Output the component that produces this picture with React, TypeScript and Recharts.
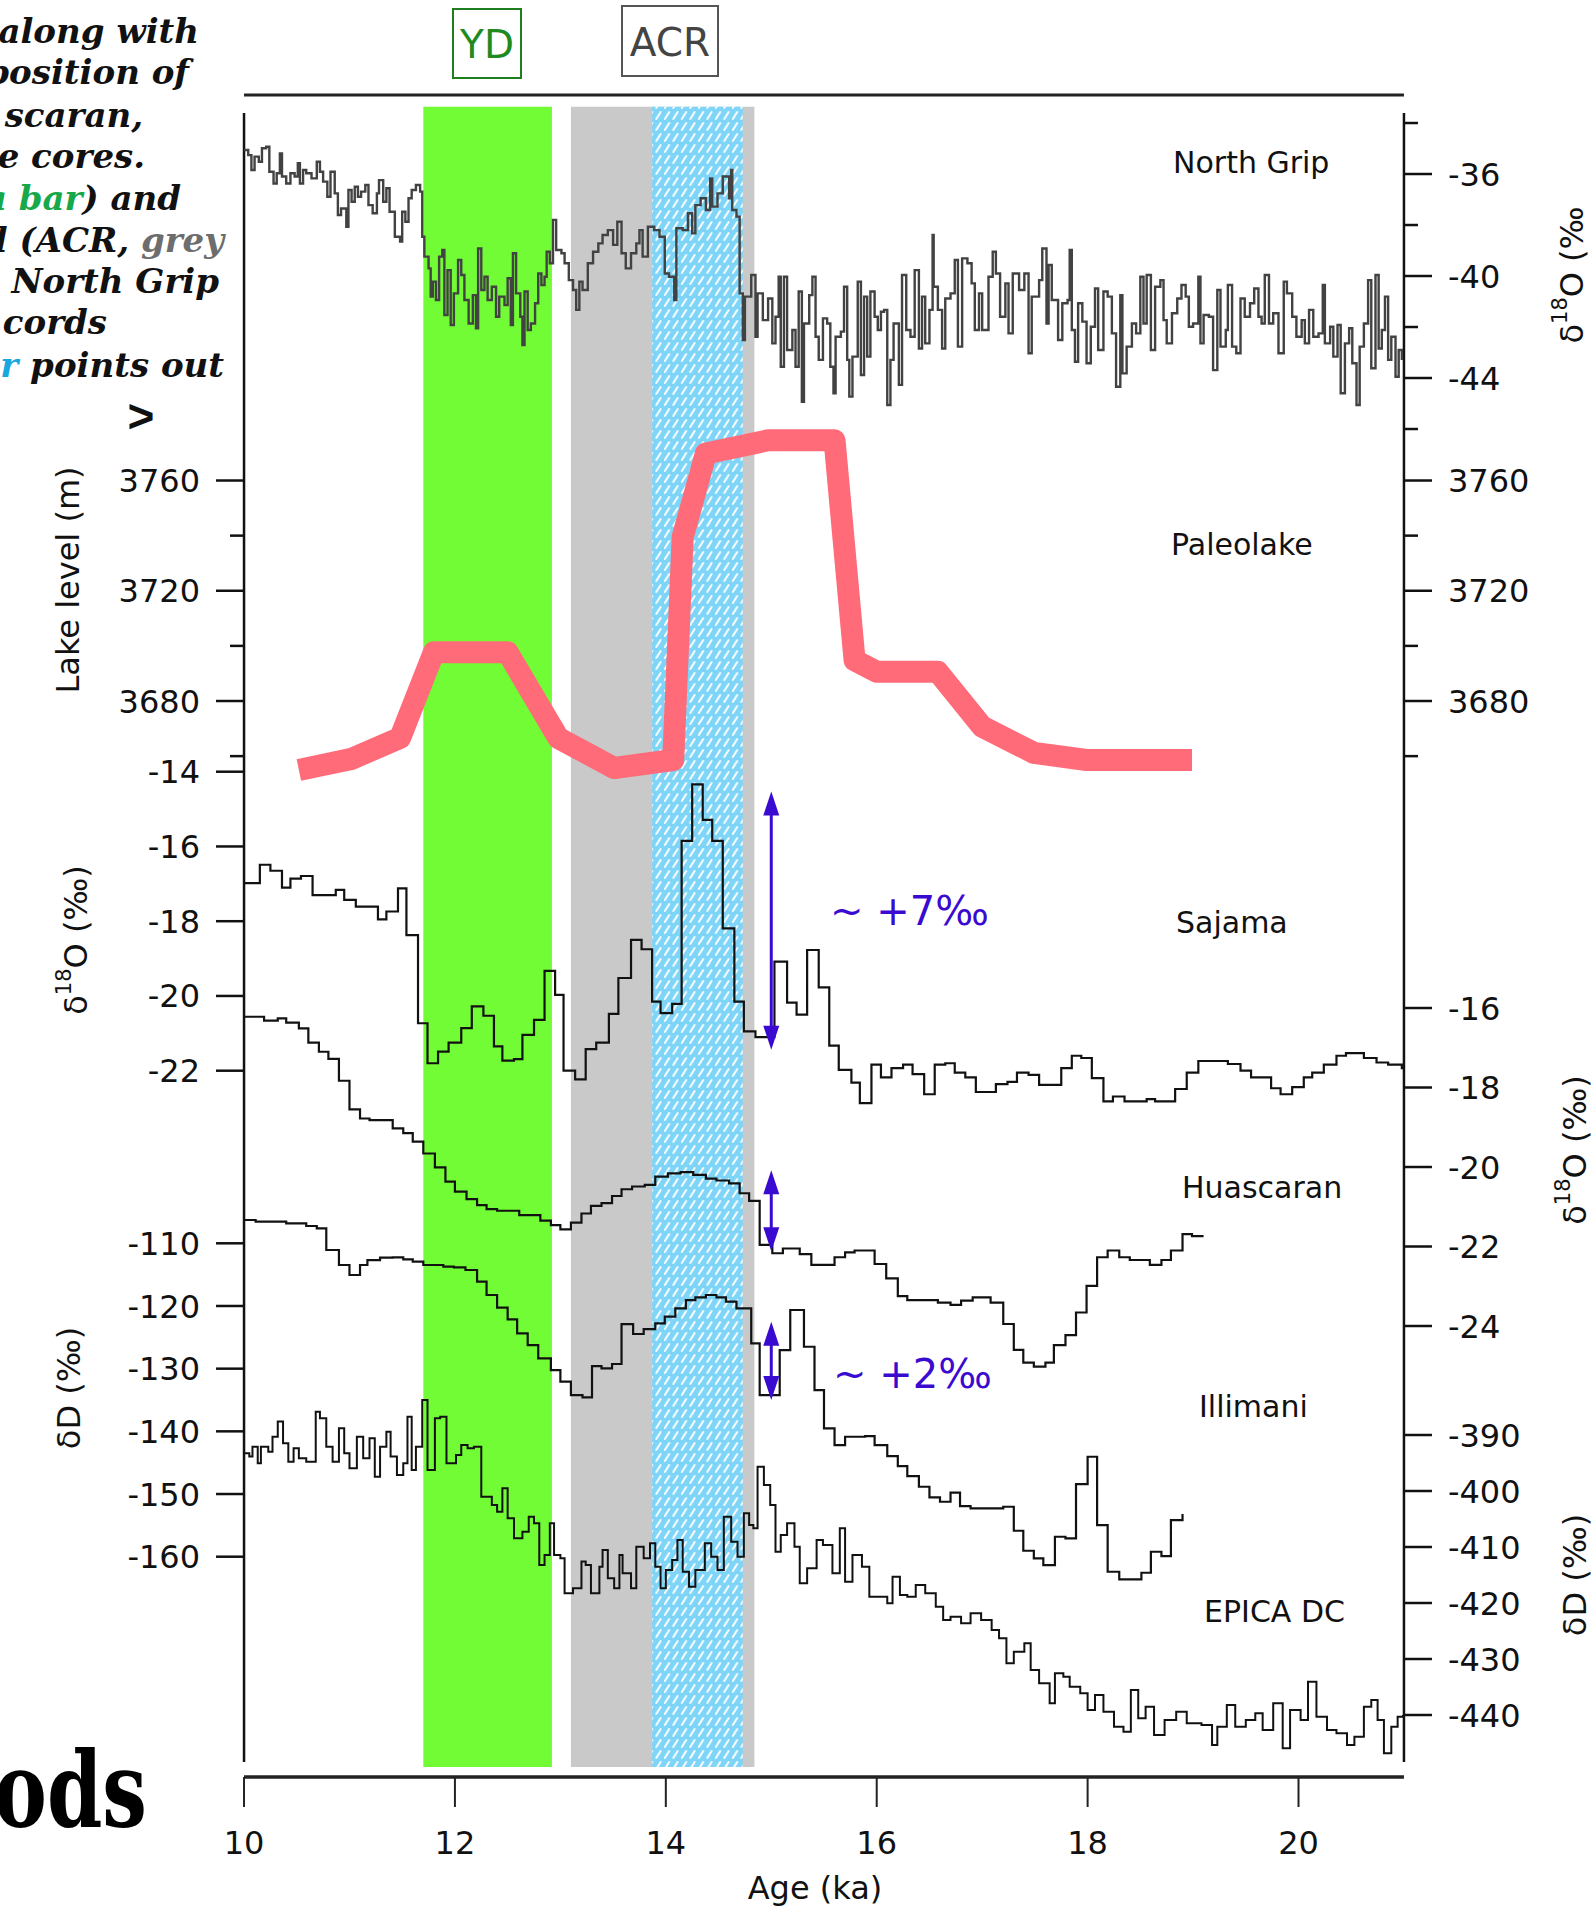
import React from "react";
import { ComposedChart, Line, XAxis, YAxis, ReferenceArea, ReferenceLine } from "recharts";

// ---- data (age in ka, value) ----
const ageTicks = [10, 12, 14, 16, 18, 20];

const periods = [
  { key: "YD", from: 11.7, to: 12.92 },
  { key: "ACR", from: 13.1, to: 14.84 },
  { key: "ACRcore", from: 13.87, to: 14.73 },
];

const ngripTicks = [-34, -36, -38, -40, -42, -44, -46];
const ngripMajor = [-36, -40, -44];
const lakeTicks = [3660, 3680, 3700, 3720, 3740, 3760];
const lakeMajor = [3680, 3720, 3760];
const sajamaTicks = [-14, -16, -18, -20, -22];
const huascaranTicks = [-16, -18, -20, -22, -24];
const illimaniTicks = [-110, -120, -130, -140, -150, -160];
const epicaTicks = [-390, -400, -410, -420, -430, -440];

const ngrip: [number, number][] = [
  [10.0, -35.06], [10.04, -35.26], [10.07, -35.84], [10.1, -35.32], [10.14, -35.52], [10.17, -34.99], [10.21, -34.93], [10.24, -35.91],
  [10.28, -36.37], [10.31, -35.97], [10.34, -35.19], [10.36, -36.1], [10.4, -36.37], [10.44, -35.97], [10.48, -36.1], [10.51, -35.58],
  [10.53, -36.37], [10.56, -35.84], [10.59, -35.97], [10.64, -36.17], [10.69, -35.52], [10.72, -35.91], [10.75, -36.3], [10.79, -36.89],
  [10.82, -35.91], [10.86, -36.76], [10.89, -37.61], [10.92, -37.35], [10.97, -38.07], [10.99, -36.63], [11.02, -37.09], [11.05, -36.5],
  [11.08, -36.89], [11.11, -36.69], [11.15, -36.43], [11.18, -37.22], [11.22, -37.54], [11.26, -36.76], [11.28, -36.24], [11.32, -37.09],
  [11.35, -36.56], [11.38, -37.48], [11.43, -38.46], [11.48, -38.65], [11.5, -37.48], [11.53, -37.87], [11.56, -36.95], [11.59, -36.63],
  [11.63, -36.43], [11.67, -36.69], [11.69, -38.46], [11.71, -39.24], [11.75, -39.7], [11.77, -40.81], [11.79, -40.22], [11.82, -40.94],
  [11.85, -39.24], [11.88, -38.98], [11.9, -41.53], [11.93, -39.77], [11.96, -41.92], [11.99, -40.68], [12.03, -39.37], [12.06, -39.96],
  [12.09, -40.94], [12.13, -41.86], [12.17, -40.75], [12.2, -42.05], [12.22, -38.92], [12.25, -40.55], [12.28, -40.03], [12.31, -40.94],
  [12.35, -40.42], [12.39, -41.6], [12.42, -40.81], [12.47, -41.14], [12.5, -40.09], [12.53, -41.92], [12.55, -39.11], [12.58, -40.68],
  [12.62, -41.6], [12.64, -42.71], [12.66, -40.61], [12.69, -42.12], [12.72, -41.86], [12.76, -41.07], [12.79, -39.9], [12.82, -40.35],
  [12.85, -40.03], [12.87, -39.05], [12.9, -39.5], [12.93, -37.8], [12.96, -38.98], [13.01, -39.11], [13.04, -39.5], [13.08, -40.16],
  [13.12, -40.55], [13.15, -41.33], [13.18, -40.22], [13.21, -40.55], [13.26, -39.5], [13.31, -39.05], [13.36, -38.72], [13.4, -38.39],
  [13.45, -38.2], [13.5, -38.78], [13.54, -37.87], [13.58, -39.11], [13.62, -39.7], [13.67, -39.11], [13.72, -38.72],
  [13.75, -38.2], [13.78, -39.24], [13.83, -38.07], [13.89, -38.2], [13.94, -38.46], [13.99, -39.9], [14.03, -40.03], [14.08, -40.94],
  [14.1, -38.13], [14.16, -38.2], [14.21, -37.54], [14.25, -38.33], [14.28, -37.22], [14.33, -36.95], [14.38, -37.41], [14.42, -36.17],
  [14.44, -37.28], [14.49, -36.76], [14.54, -36.1], [14.6, -36.95], [14.62, -35.84], [14.63, -37.41], [14.67, -37.67], [14.7, -40.68],
  [14.73, -42.51], [14.75, -40.81], [14.81, -39.96], [14.85, -42.38], [14.87, -40.68], [14.92, -41.73], [14.97, -40.88], [15.01, -42.64],
  [15.04, -41.6], [15.07, -40.03], [15.09, -43.56], [15.12, -40.03], [15.15, -42.9], [15.2, -42.12], [15.23, -43.56], [15.26, -40.61],
  [15.29, -44.93], [15.31, -41.86], [15.36, -40.75], [15.39, -40.03], [15.42, -42.38], [15.45, -43.29], [15.49, -41.66], [15.53, -41.86],
  [15.56, -43.56], [15.59, -44.6], [15.61, -42.38], [15.66, -42.18], [15.69, -40.42], [15.72, -43.29], [15.74, -44.73], [15.77, -43.16],
  [15.82, -40.22], [15.85, -43.88], [15.88, -40.81], [15.91, -43.16], [15.94, -40.61], [15.98, -41.6], [16.01, -42.12], [16.04, -41.4],
  [16.07, -41.33], [16.1, -45.06], [16.13, -43.29], [16.16, -41.86], [16.21, -44.27], [16.24, -39.96], [16.28, -42.12], [16.32, -42.38],
  [16.36, -39.77], [16.4, -42.84], [16.43, -40.81], [16.46, -42.64], [16.5, -41.33], [16.53, -38.39], [16.54, -40.42], [16.58, -41.33],
  [16.62, -42.84], [16.65, -40.88], [16.7, -40.68], [16.74, -39.37], [16.77, -42.77], [16.81, -39.31], [16.86, -39.5], [16.9, -40.29],
  [16.93, -42.12], [16.97, -40.68], [17.0, -42.12], [17.06, -40.03], [17.1, -39.05], [17.13, -39.9], [17.17, -41.6], [17.22, -40.29],
  [17.25, -42.25], [17.29, -39.9], [17.35, -40.55], [17.4, -39.9], [17.44, -43.03], [17.47, -40.81],
  [17.54, -40.16], [17.57, -38.92], [17.61, -41.86], [17.63, -39.57], [17.66, -40.94], [17.72, -42.51], [17.76, -41.07], [17.81, -40.94],
  [17.83, -38.98], [17.85, -42.12], [17.88, -43.36], [17.91, -41.07], [17.95, -41.79], [17.99, -43.42], [18.03, -41.99], [18.07, -40.49],
  [18.1, -42.9], [18.15, -40.61], [18.19, -40.81], [18.23, -42.25], [18.27, -44.34], [18.31, -40.75], [18.33, -43.82], [18.37, -42.77],
  [18.42, -41.86], [18.46, -42.25], [18.5, -40.03], [18.53, -41.86], [18.56, -39.96], [18.6, -42.9], [18.64, -40.42], [18.69, -40.16],
  [18.72, -41.73], [18.75, -42.64], [18.8, -41.46], [18.85, -40.88], [18.89, -40.35], [18.93, -40.81], [18.96, -41.99], [19.0, -41.86],
  [19.05, -40.03], [19.07, -42.64], [19.1, -41.53], [19.15, -41.6], [19.19, -43.69], [19.23, -40.55], [19.26, -42.77], [19.31, -42.12],
  [19.33, -40.35], [19.37, -42.77], [19.41, -43.03], [19.45, -40.88], [19.49, -41.6], [19.54, -41.07], [19.58, -40.49], [19.62, -41.6],
  [19.65, -41.86], [19.68, -39.96], [19.72, -41.86], [19.76, -41.46], [19.81, -43.03], [19.86, -40.22], [19.89, -40.68], [19.94, -41.6],
  [19.98, -42.38], [20.03, -41.73], [20.06, -42.64], [20.1, -41.33], [20.14, -42.38], [20.19, -42.25], [20.23, -40.35], [20.25, -42.64],
  [20.3, -41.99], [20.33, -43.16], [20.37, -41.92], [20.4, -44.6], [20.44, -42.64], [20.48, -42.05], [20.51, -43.42], [20.55, -45.06],
  [20.58, -42.77], [20.62, -41.86], [20.66, -40.16], [20.69, -43.62], [20.73, -39.96], [20.76, -42.84], [20.79, -42.12], [20.82, -40.81],
  [20.85, -43.29], [20.88, -42.38], [20.92, -43.95], [20.95, -42.9], [20.98, -43.29],
];

const lakeLevel: [number, number][] = [
  [10.52, 3655], [11.02, 3659], [11.48, 3666.6], [11.8, 3697.7], [12.5, 3697.7], [12.98, 3666.6], [13.51, 3655.7],
  [14.07, 3658.6], [14.16, 3739.5], [14.38, 3769.8], [14.97, 3774.6], [15.6, 3774.6], [15.79, 3694.8], [16.0, 3690.6],
  [16.58, 3690.6], [17.0, 3670.7], [17.49, 3661.2], [17.99, 3658.6], [18.99, 3658.6],
];

const sajama: [number, number][] = [
  [10.0, -16.98], [10.15, -16.49], [10.25, -16.65], [10.36, -17.1], [10.44, -16.86], [10.54, -16.79], [10.65, -17.3], [10.87, -17.16],
  [10.95, -17.43], [11.06, -17.61], [11.27, -17.95], [11.35, -17.74], [11.46, -17.12], [11.54, -18.37], [11.65, -20.73], [11.74, -21.8],
  [11.84, -21.49], [11.94, -21.25], [12.06, -20.86], [12.16, -20.28], [12.27, -20.53], [12.37, -21.35], [12.45, -21.73], [12.56, -21.69],
  [12.64, -21.04], [12.75, -20.64], [12.85, -19.33], [12.95, -19.97], [13.03, -22.0], [13.14, -22.23], [13.24, -21.42], [13.34, -21.25],
  [13.46, -20.48], [13.55, -19.52], [13.67, -18.5], [13.77, -18.75], [13.87, -20.15], [13.95, -20.46], [14.06, -20.21], [14.15, -15.85],
  [14.25, -14.34], [14.35, -15.29], [14.44, -15.85], [14.54, -18.19], [14.65, -20.15], [14.74, -20.95], [14.85, -21.1], [15.03, -19.08],
  [15.15, -20.18], [15.24, -20.5], [15.34, -18.77], [15.45, -19.77], [15.55, -21.33], [15.64, -21.98], [15.76, -22.32], [15.84, -22.87],
  [15.95, -21.84], [16.04, -22.18], [16.14, -21.93], [16.25, -21.84], [16.34, -22.09], [16.45, -22.63], [16.55, -21.84], [16.65, -21.8],
  [16.74, -22.05], [16.84, -22.18], [16.94, -22.57], [17.13, -22.36], [17.24, -22.3], [17.33, -22.05], [17.44, -22.11], [17.54, -22.38],
  [17.75, -21.93], [17.85, -21.6], [17.94, -21.66], [18.04, -22.2], [18.15, -22.82], [18.24, -22.69], [18.35, -22.82], [18.56, -22.76],
  [18.64, -22.82], [18.83, -22.49], [18.94, -22.05], [19.05, -21.74], [19.33, -21.82], [19.45, -22.0], [19.55, -22.18], [19.74, -22.47],
  [19.83, -22.63], [19.94, -22.44], [20.05, -22.18], [20.13, -22.05], [20.24, -21.84], [20.36, -21.6], [20.45, -21.53], [20.62, -21.66],
  [20.74, -21.78], [20.85, -21.84], [20.98, -21.93], [21.0, -21.93],
];

const huascaran: [number, number][] = [
  [10.0, -16.22], [10.19, -16.32], [10.32, -16.26], [10.4, -16.37], [10.52, -16.51], [10.61, -16.87], [10.71, -17.1], [10.8, -17.28],
  [10.9, -17.83], [11.0, -18.55], [11.1, -18.78], [11.19, -18.82], [11.41, -19.03], [11.51, -19.15], [11.6, -19.36], [11.7, -19.66],
  [11.81, -20.01], [11.91, -20.37], [12.0, -20.62], [12.11, -20.81], [12.21, -20.96], [12.3, -21.06], [12.4, -21.1], [12.61, -21.21],
  [12.81, -21.35], [12.91, -21.46], [13.0, -21.57], [13.1, -21.4], [13.2, -21.17], [13.29, -20.98], [13.39, -20.91], [13.49, -20.73],
  [13.58, -20.56], [13.68, -20.49], [13.8, -20.45], [13.9, -20.24], [14.02, -20.16], [14.14, -20.13], [14.26, -20.2], [14.38, -20.29],
  [14.48, -20.34], [14.6, -20.41], [14.7, -20.66], [14.79, -20.85], [14.89, -21.96], [15.01, -22.17], [15.11, -22.05], [15.27, -22.19],
  [15.38, -22.46], [15.6, -22.27], [15.7, -22.15], [15.79, -22.1], [15.98, -22.44], [16.09, -22.8], [16.2, -23.25], [16.29, -23.35],
  [16.58, -23.41], [16.7, -23.47], [16.8, -23.36], [16.91, -23.28], [17.08, -23.41], [17.2, -23.95], [17.3, -24.6], [17.39, -24.92],
  [17.49, -25.02], [17.6, -24.92], [17.68, -24.48], [17.79, -24.23], [17.89, -23.66], [17.99, -22.99], [18.09, -22.27], [18.19, -22.1],
  [18.3, -22.27], [18.4, -22.34], [18.59, -22.46], [18.7, -22.34], [18.79, -22.1], [18.9, -21.69], [18.99, -21.74], [19.1, -21.74],
];

const illimani: [number, number][] = [
  [10.0, -106.28], [10.11, -106.55], [10.4, -106.81], [10.59, -107.24], [10.69, -107.61], [10.78, -111.07], [10.9, -113.46],
  [11.0, -115.06], [11.1, -113.46], [11.17, -112.67], [11.29, -112.29], [11.41, -112.24], [11.51, -112.56], [11.6, -112.93],
  [11.7, -113.46], [11.89, -113.73], [11.99, -113.84], [12.1, -114.26], [12.21, -116.12], [12.3, -118.25], [12.4, -120.27],
  [12.5, -122.13], [12.59, -124.37], [12.69, -126.23], [12.79, -128.36], [12.91, -130.22], [13.0, -132.08], [13.1, -134.21],
  [13.21, -134.58], [13.3, -129.58], [13.39, -129.95], [13.49, -129.26], [13.58, -122.88], [13.69, -124.47], [13.79, -123.68],
  [13.9, -122.77], [13.99, -121.71], [14.09, -120.38], [14.19, -119.05], [14.28, -118.62], [14.38, -118.25], [14.48, -118.62],
  [14.57, -119.31], [14.67, -120.38], [14.81, -125.96], [14.89, -134.21], [15.08, -127.03], [15.18, -120.64], [15.31, -126.5],
  [15.41, -133.41], [15.5, -139.53], [15.6, -142.19], [15.7, -140.86], [15.89, -140.75], [15.98, -142.19], [16.1, -143.94],
  [16.2, -145.54], [16.29, -147.13], [16.4, -148.84], [16.5, -150.54], [16.6, -151.23], [16.7, -149.79], [16.79, -151.92],
  [16.89, -152.29], [17.2, -152.03], [17.3, -155.86], [17.39, -159.05], [17.49, -160.27], [17.58, -161.34], [17.69, -156.82],
  [17.79, -157.08], [17.89, -148.41], [18.0, -144.05], [18.09, -154.95], [18.19, -162.4], [18.3, -163.62], [18.51, -162.56],
  [18.6, -159.21], [18.7, -159.9], [18.79, -154.16], [18.9, -153.2],
];

const epica: [number, number][] = [
  [10.0, -393.27], [10.05, -393.86], [10.08, -392.08], [10.13, -395.05], [10.16, -392.08], [10.23, -392.97], [10.27, -390.29],
  [10.32, -387.61], [10.37, -391.48], [10.42, -394.76], [10.47, -392.38], [10.52, -394.16], [10.59, -394.76], [10.68, -385.83],
  [10.72, -387.02], [10.78, -392.08], [10.84, -394.76], [10.9, -388.8], [10.95, -393.27], [11.0, -395.95], [11.07, -390.29],
  [11.13, -394.16], [11.19, -390.59], [11.24, -397.44], [11.29, -392.08], [11.35, -389.4], [11.39, -393.86], [11.45, -397.14],
  [11.51, -395.05], [11.55, -386.72], [11.59, -396.25], [11.63, -392.08], [11.69, -383.75], [11.74, -396.25], [11.81, -387.02],
  [11.86, -386.72], [11.92, -395.05], [12.01, -393.57], [12.06, -391.78], [12.12, -392.38], [12.18, -392.08], [12.25, -401.01],
  [12.35, -402.5], [12.4, -403.69], [12.45, -399.52], [12.5, -404.87], [12.56, -408.45], [12.64, -407.26], [12.7, -404.58],
  [12.75, -405.77], [12.8, -413.21], [12.85, -411.42], [12.9, -405.77], [12.94, -411.42], [13.0, -412.02], [13.04, -418.27],
  [13.12, -417.37], [13.2, -412.61], [13.24, -413.21], [13.29, -418.27], [13.37, -413.51], [13.4, -410.54], [13.45, -415.59],
  [13.51, -417.37], [13.56, -411.42], [13.59, -414.7], [13.67, -417.37], [13.72, -409.94], [13.79, -412.02], [13.85, -409.34],
  [13.9, -413.51], [13.95, -417.37], [14.0, -414.1], [14.06, -412.32], [14.11, -408.75], [14.16, -414.4], [14.22, -417.08],
  [14.28, -414.1], [14.37, -409.34], [14.43, -411.72], [14.49, -414.1], [14.55, -404.58], [14.62, -409.04], [14.68, -411.72],
  [14.74, -403.98], [14.79, -406.07], [14.83, -406.66], [14.87, -395.65], [14.93, -398.92], [14.99, -402.5], [15.04, -410.83],
  [15.09, -407.85], [15.15, -405.77], [15.22, -409.94], [15.27, -416.48], [15.34, -413.8], [15.43, -408.75], [15.49, -409.64],
  [15.58, -414.7], [15.65, -406.66], [15.7, -416.19], [15.77, -411.42], [15.86, -413.51], [15.93, -418.87], [16.1, -420.05],
  [16.15, -415.29], [16.22, -418.57], [16.29, -418.87], [16.37, -416.78], [16.46, -418.27], [16.56, -420.65], [16.63, -423.03],
  [16.7, -422.44], [16.8, -423.63], [16.89, -421.84], [16.99, -423.03], [17.09, -424.82], [17.16, -426.31], [17.23, -430.77],
  [17.3, -428.69], [17.4, -427.2], [17.46, -431.96], [17.54, -434.34], [17.64, -437.91], [17.69, -432.56], [17.77, -433.15],
  [17.83, -434.94], [17.93, -436.13], [18.0, -439.1], [18.07, -436.43], [18.15, -439.4], [18.25, -442.08], [18.34, -442.97],
  [18.41, -435.53], [18.48, -440.59], [18.55, -438.51], [18.63, -443.57], [18.73, -440.89], [18.84, -439.4], [18.94, -441.49],
  [19.08, -441.78], [19.18, -445.35], [19.23, -442.08], [19.32, -438.21], [19.4, -442.08], [19.5, -440.89], [19.59, -439.7],
  [19.66, -442.68], [19.76, -437.91], [19.85, -445.95], [19.92, -439.1], [20.02, -440.89], [20.09, -434.05], [20.17, -440.3],
  [20.27, -442.68], [20.36, -443.27], [20.46, -445.35], [20.53, -443.87], [20.62, -438.51], [20.69, -437.32], [20.75, -440.89],
  [20.81, -446.84], [20.88, -442.08], [20.94, -440.3], [20.99, -440.0],
];

// double arrows: shift around 15 ka
const shifts = [
  { axis: "sajama", age: 15.0, top: -14.53, bottom: -21.44 },
  { axis: "huascaran", age: 15.0, top: -20.08, bottom: -22.12 },
  { axis: "illimani", age: 15.0, top: -122.5, bottom: -135.0 },
];

// ---- layout ----
const W = 1592;
const H = 1915;
const PLOT_TOP = 95;
const PLOT_BOTTOM = 1777;
const PLOT_LEFT = 244;
const PLOT_RIGHT = 1404;
const AXIS_W = 0.01; // axes sit on top of each other; a zero width would stop them drawing
const FONT = "'DejaVu Sans', sans-serif";
const SERIF = "'DejaVu Serif', serif";
const INK = "#111";
const ARROW = "#3a0ad0";

// domain so that value v1 sits at pixel y1 and v2 at y2
function domainFrom(v1: number, y1: number, v2: number, y2: number): [number, number] {
  const k = (v1 - v2) / (y2 - y1);
  return [v2 - (PLOT_BOTTOM - y2) * k, v1 + (y1 - PLOT_TOP) * k];
}

const domains = {
  ngrip: domainFrom(-36, 174, -44, 378),
  lake: domainFrom(3760, 480.5, 3680, 701),
  sajama: domainFrom(-14, 771.7, -22, 1070.7),
  huascaran: domainFrom(-16, 1008, -24, 1326),
  illimani: domainFrom(-110, 1243.3, -160, 1556.7),
  epica: domainFrom(-390, 1435, -440, 1715),
};

const toRows = (pts: [number, number][]) => pts.map(([age, v]) => ({ age, v }));

const makeTick = (side: "left" | "right", majors: number[] | null) => (props: any) => {
  const { x, y, payload } = props;
  const v = payload.value;
  const major = majors === null || majors.includes(v);
  const dir = side === "left" ? -1 : 1;
  const len = major ? 28 : 14;
  return (
    <g>
      <line x1={x} x2={x + dir * len} y1={y} y2={y} stroke={INK} strokeWidth={2.5} />
      {major && (
        <text
          x={x + dir * (len + 16)}
          y={y}
          dy="0.36em"
          textAnchor={side === "left" ? "end" : "start"}
          fontFamily={FONT}
          fontSize={32}
          fill={INK}
        >
          {v}
        </text>
      )}
    </g>
  );
};

const renderArrow = (props: any) => {
  const { x1, y1, y2 } = props;
  const top = Math.min(y1, y2);
  const bot = Math.max(y1, y2);
  const head = 24;
  const half = 8;
  return (
    <g>
      <line x1={x1} x2={x1} y1={top + head - 2} y2={bot - head + 2} stroke={ARROW} strokeWidth={3} />
      <polygon points={`${x1},${top} ${x1 - half},${top + head} ${x1 + half},${top + head}`} fill={ARROW} />
      <polygon points={`${x1},${bot} ${x1 - half},${bot - head} ${x1 + half},${bot - head}`} fill={ARROW} />
    </g>
  );
};

const bandFill: Record<string, string> = {
  YD: "#72fc35",
  ACR: "#c9c9c9",
  ACRcore: "url(#acrHatch)",
};

function Rotated({ x, y, children, size = 32 }: { x: number; y: number; children: React.ReactNode; size?: number }) {
  return (
    <text
      transform={`translate(${x},${y}) rotate(-90)`}
      textAnchor="middle"
      dominantBaseline="central"
      fontFamily={FONT}
      fontSize={size}
      fill={INK}
    >
      {children}
    </text>
  );
}

const d18O = (close: boolean) => (
  <>
    δ<tspan fontSize={21} dy={-12}>18</tspan>
    <tspan dy={12}>O (‰{close ? ")" : ""}</tspan>
  </>
);

function Overlay() {
  const slide = { fontFamily: SERIF, fontSize: 34, fontWeight: 700, fontStyle: "italic" as const, fill: "#111" };
  const label = { fontFamily: FONT, fontSize: 30, fill: INK };
  return (
    <svg width={W} height={H} style={{ position: "absolute", left: 0, top: 0, pointerEvents: "none" }}>
      {/* slide text cut at the left edge */}
      <text {...slide} textAnchor="end" x={199} y={43}>along with</text>
      <text {...slide} textAnchor="end" x={189} y={84}>position of</text>
      <text {...slide} textAnchor="end" x={143} y={127}>scaran,</text>
      <text {...slide} textAnchor="end" x={145} y={168}>e cores.</text>
      <text {...slide} textAnchor="end" x={181} y={210}>
        <tspan fill="#16a84a">a bar</tspan>) and
      </text>
      <text {...slide} textAnchor="end" x={224} y={252}>
        l (ACR, <tspan fill="#6d6d6d">grey</tspan>
      </text>
      <text {...slide} textAnchor="end" x={219} y={293}>North Grip</text>
      <text {...slide} textAnchor="end" x={107} y={334}>cords</text>
      <text {...slide} textAnchor="end" x={224} y={377}>
        <tspan fill="#19a7e0">r</tspan> points out
      </text>
      <text fontFamily="'Liberation Sans', sans-serif" fontWeight={700} fontSize={46} textAnchor="middle" x={141} y={432} fill="#111">
        {">"}
      </text>
      <text fontFamily={SERIF} fontWeight={900} fontSize={105} x={-6} y={1827} textLength={153} lengthAdjust="spacingAndGlyphs" fill="#000">
        ods
      </text>

      {/* period boxes */}
      <rect x={453} y={9} width={68} height={69} fill="none" stroke="#1f7f1f" strokeWidth={2} />
      <text x={487} y={58} textAnchor="middle" fontFamily={FONT} fontSize={39} fill="#1f8a1f">YD</text>
      <rect x={622} y={6} width={96} height={70} fill="none" stroke="#555" strokeWidth={2} />
      <text x={670} y={56} textAnchor="middle" fontFamily={FONT} fontSize={39} fill="#444">ACR</text>

      {/* series labels */}
      <text {...label} x={1173} y={173}>North Grip</text>
      <text {...label} x={1171} y={555}>Paleolake</text>
      <text {...label} x={1176} y={933}>Sajama</text>
      <text {...label} x={1182} y={1198}>Huascaran</text>
      <text {...label} x={1199} y={1417}>Illimani</text>
      <text {...label} x={1204} y={1622}>EPICA DC</text>

      {/* shift annotations */}
      <text x={830} y={925} fontFamily={FONT} fontSize={40} fill={ARROW}>~ +7‰</text>
      <text x={833} y={1388} fontFamily={FONT} fontSize={40} fill={ARROW}>~  +2‰</text>

      {/* axis titles */}
      <Rotated x={68} y={580}>Lake level (m)</Rotated>
      <Rotated x={76} y={940}>{d18O(true)}</Rotated>
      <Rotated x={69} y={1388}>δD (‰)</Rotated>
      <Rotated x={1572} y={275}>{d18O(false)}</Rotated>
      <Rotated x={1575} y={1150}>{d18O(true)}</Rotated>
      <Rotated x={1575} y={1575}>δD (‰)</Rotated>
      <text x={815} y={1899} textAnchor="middle" fontFamily={FONT} fontSize={32} fill={INK}>Age (ka)</text>
    </svg>
  );
}

export default function App() {
  const yAxis = (id: string, side: "left" | "right", domain: [number, number], ticks: number[], majors: number[] | null) => (
    <YAxis
      key={id}
      yAxisId={id}
      orientation={side}
      type="number"
      domain={domain}
      allowDataOverflow
      ticks={ticks}
      interval={0}
      width={AXIS_W}
      tickSize={0}
      tickMargin={0}
      tickLine={false}
      axisLine={false}
      tick={makeTick(side, majors)}
    />
  );

  const series = [
    { id: "ngrip", data: ngrip, color: "#424242", width: 2.4 },
    { id: "sajama", data: sajama, color: INK, width: 2.2 },
    { id: "huascaran", data: huascaran, color: INK, width: 2.2 },
    { id: "illimani", data: illimani, color: INK, width: 2.2 },
    { id: "epica", data: epica, color: INK, width: 2 },
  ];

  return (
    <div style={{ position: "absolute", left: 0, top: 0, width: W, height: H, background: "#fff" }}>
      <ComposedChart
        width={W}
        height={H}
        margin={{ top: PLOT_TOP, right: W - PLOT_RIGHT, bottom: 0, left: PLOT_LEFT }}
      >
        <defs>
          <pattern id="acrHatch" patternUnits="userSpaceOnUse" width={8.5} height={11}>
            <rect width={8.5} height={11} fill="#7fd5f7" />
            <line x1={1.8} y1={9} x2={6.2} y2={2} stroke="#fff" strokeWidth={1.9} strokeLinecap="round" />
          </pattern>
        </defs>

        <XAxis
          xAxisId="age"
          type="number"
          dataKey="age"
          domain={[10, 21]}
          allowDataOverflow
          ticks={ageTicks}
          interval={0}
          height={H - PLOT_BOTTOM}
          tickSize={30}
          tickMargin={24}
          stroke="#222"
          axisLine={{ stroke: "#222", strokeWidth: 3.5 }}
          tickLine={{ stroke: "#222", strokeWidth: 2 }}
          tick={{ fontSize: 32, fontFamily: FONT, fill: INK }}
        />
        <XAxis
          xAxisId="top"
          orientation="top"
          type="number"
          dataKey="age"
          domain={[10, 21]}
          allowDataOverflow
          height={AXIS_W}
          tick={false}
          tickLine={false}
          axisLine={{ stroke: "#222", strokeWidth: 3 }}
        />

        <YAxis
          yAxisId="frame"
          hide
          width={0}
          orientation="right"
          type="number"
          domain={[PLOT_TOP, PLOT_BOTTOM]}
          reversed
          allowDataOverflow
        />
        {yAxis("ngrip", "right", domains.ngrip, ngripTicks, ngripMajor)}
        {yAxis("lakeL", "left", domains.lake, lakeTicks, lakeMajor)}
        {yAxis("lakeR", "right", domains.lake, lakeTicks, lakeMajor)}
        {yAxis("sajama", "left", domains.sajama, sajamaTicks, null)}
        {yAxis("huascaran", "right", domains.huascaran, huascaranTicks, null)}
        {yAxis("illimani", "left", domains.illimani, illimaniTicks, null)}
        {yAxis("epica", "right", domains.epica, epicaTicks, null)}

        {periods.map((p) => (
          <ReferenceArea
            key={p.key}
            xAxisId="age"
            yAxisId="frame"
            x1={p.from}
            x2={p.to}
            y1={106.7}
            y2={1767}
            fill={bandFill[p.key]}
            fillOpacity={1}
            stroke="none"
            ifOverflow="visible"
          />
        ))}

        {/* vertical axis lines */}
        <ReferenceLine
          xAxisId="age"
          yAxisId="frame"
          segment={[{ x: 10, y: 113 }, { x: 10, y: 1762 }]}
          stroke={INK}
          strokeWidth={2.5}
          ifOverflow="visible"
        />
        <ReferenceLine
          xAxisId="age"
          yAxisId="frame"
          segment={[{ x: 21, y: 113 }, { x: 21, y: 1762 }]}
          stroke={INK}
          strokeWidth={2.5}
          ifOverflow="visible"
        />

        {series.map((s) => (
          <Line
            key={s.id}
            xAxisId="age"
            yAxisId={s.id}
            data={toRows(s.data)}
            dataKey="v"
            type="stepAfter"
            stroke={s.color}
            strokeWidth={s.width}
            dot={false}
            activeDot={false}
            isAnimationActive={false}
          />
        ))}

        <Line
          xAxisId="age"
          yAxisId="lakeL"
          data={toRows(lakeLevel)}
          dataKey="v"
          type="linear"
          stroke="#ff6b78"
          strokeWidth={22}
          strokeLinejoin="round"
          strokeLinecap="butt"
          dot={false}
          activeDot={false}
          isAnimationActive={false}
        />

        {shifts.map((s) => (
          <ReferenceLine
            key={s.axis}
            xAxisId="age"
            yAxisId={s.axis}
            segment={[{ x: s.age, y: s.top }, { x: s.age, y: s.bottom }]}
            ifOverflow="visible"
            shape={renderArrow}
          />
        ))}
      </ComposedChart>
      <Overlay />
    </div>
  );
}
